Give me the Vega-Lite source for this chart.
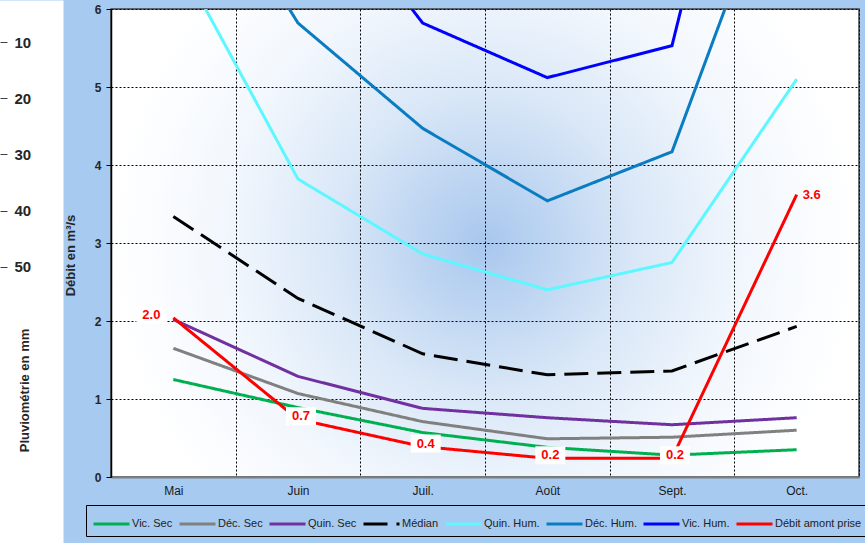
{
  "$schema": "https://vega.github.io/schema/vega-lite/v6.json",
  "autosize": "none",
  "width": 748,
  "height": 468,
  "padding": {"left": 111, "top": 9, "right": 6, "bottom": 66},
  "background": "#a6caf0",
  "config": {
    "font": "Liberation Sans",
    "view": {
      "stroke": "#404040",
      "strokeWidth": 1.5,
      "fill": {
        "gradient": "radial",
        "x1": 0.5, "y1": 0.5, "r1": 0,
        "x2": 0.5, "y2": 0.5, "r2": 0.5,
        "stops": [
          {"offset": 0, "color": "#a8c7ee"},
          {"offset": 0.15, "color": "#bad3f1"},
          {"offset": 0.4, "color": "#d9e7f7"},
          {"offset": 0.7, "color": "#f2f7fd"},
          {"offset": 1, "color": "#ffffff"}
        ]
      }
    },
    "legend": {
      "orient": "none",
      "legendX": -25,
      "legendY": 496,
      "direction": "horizontal",
      "symbolType": "M-1,0H2.13",
      "symbolSize": 529,
      "symbolStrokeWidth": 3,
      "labelFontSize": 11,
      "labelFont": "Liberation Sans",
      "labelColor": "#222222",
      "labelOffset": 14,
      "columnPadding": 0,
      "strokeColor": "#000000",
      "padding": 6
    }
  },
  "data": {
    "values": [
      {"serie": "Vic. Sec", "mois": "Mai", "debit": 1.25},
      {"serie": "Vic. Sec", "mois": "Juin", "debit": 0.89},
      {"serie": "Vic. Sec", "mois": "Juil.", "debit": 0.57},
      {"serie": "Vic. Sec", "mois": "Août", "debit": 0.38},
      {"serie": "Vic. Sec", "mois": "Sept.", "debit": 0.28},
      {"serie": "Vic. Sec", "mois": "Oct.", "debit": 0.35},
      {"serie": "Déc. Sec", "mois": "Mai", "debit": 1.65},
      {"serie": "Déc. Sec", "mois": "Juin", "debit": 1.07},
      {"serie": "Déc. Sec", "mois": "Juil.", "debit": 0.71},
      {"serie": "Déc. Sec", "mois": "Août", "debit": 0.49},
      {"serie": "Déc. Sec", "mois": "Sept.", "debit": 0.51},
      {"serie": "Déc. Sec", "mois": "Oct.", "debit": 0.6},
      {"serie": "Quin. Sec", "mois": "Mai", "debit": 2.02},
      {"serie": "Quin. Sec", "mois": "Juin", "debit": 1.29},
      {"serie": "Quin. Sec", "mois": "Juil.", "debit": 0.88},
      {"serie": "Quin. Sec", "mois": "Août", "debit": 0.76},
      {"serie": "Quin. Sec", "mois": "Sept.", "debit": 0.67},
      {"serie": "Quin. Sec", "mois": "Oct.", "debit": 0.76},
      {"serie": "Médian", "mois": "Mai", "debit": 3.34},
      {"serie": "Médian", "mois": "Juin", "debit": 2.29},
      {"serie": "Médian", "mois": "Juil.", "debit": 1.58},
      {"serie": "Médian", "mois": "Août", "debit": 1.31},
      {"serie": "Médian", "mois": "Sept.", "debit": 1.36},
      {"serie": "Médian", "mois": "Oct.", "debit": 1.93},
      {"serie": "Quin. Hum.", "mois": "Mai", "debit": 6.76},
      {"serie": "Quin. Hum.", "mois": "Juin", "debit": 3.82},
      {"serie": "Quin. Hum.", "mois": "Juil.", "debit": 2.86},
      {"serie": "Quin. Hum.", "mois": "Août", "debit": 2.4},
      {"serie": "Quin. Hum.", "mois": "Sept.", "debit": 2.75},
      {"serie": "Quin. Hum.", "mois": "Oct.", "debit": 5.1},
      {"serie": "Déc. Hum.", "mois": "Mai", "debit": 8.4},
      {"serie": "Déc. Hum.", "mois": "Juin", "debit": 5.82},
      {"serie": "Déc. Hum.", "mois": "Juil.", "debit": 4.47},
      {"serie": "Déc. Hum.", "mois": "Août", "debit": 3.54},
      {"serie": "Déc. Hum.", "mois": "Sept.", "debit": 4.17},
      {"serie": "Déc. Hum.", "mois": "Oct.", "debit": 8.48},
      {"serie": "Vic. Hum.", "mois": "Juin", "debit": 7.9},
      {"serie": "Vic. Hum.", "mois": "Juil.", "debit": 5.82},
      {"serie": "Vic. Hum.", "mois": "Août", "debit": 5.12},
      {"serie": "Vic. Hum.", "mois": "Sept.", "debit": 5.53},
      {"serie": "Vic. Hum.", "mois": "Oct.", "debit": 12.0},
      {"serie": "Débit amont prise", "mois": "Mai", "debit": 2.04},
      {"serie": "Débit amont prise", "mois": "Juin", "debit": 0.74},
      {"serie": "Débit amont prise", "mois": "Juil.", "debit": 0.39},
      {"serie": "Débit amont prise", "mois": "Août", "debit": 0.24},
      {"serie": "Débit amont prise", "mois": "Sept.", "debit": 0.24},
      {"serie": "Débit amont prise", "mois": "Oct.", "debit": 3.62}
    ]
  },
  "layer": [
    {
      "encoding": {
        "x": {
          "field": "mois",
          "type": "ordinal",
          "sort": ["Mai", "Juin", "Juil.", "Août", "Sept.", "Oct."],
          "scale": {"type": "band", "paddingInner": 0, "paddingOuter": 0},
          "axis": {
            "title": null,
            "labelAngle": 0,
            "tickBand": "extent",
            "ticks": false,
            "labelPadding": 8,
            "labelFontSize": 12,
            "labelColor": "#1a1a1a",
            "grid": true,
            "gridColor": "#000000",
            "gridDash": [2, 2],
            "gridWidth": 1,
            "domainColor": "#7f7f7f",
            "domainWidth": 2
          }
        },
        "y": {
          "field": "debit",
          "type": "quantitative",
          "scale": {"domain": [0, 6], "nice": false},
          "axis": {
            "values": [0, 1, 2, 3, 4, 5, 6],
            "title": "Débit en m³/s",
            "titleFontSize": 13,
            "titleFontWeight": "bold",
            "titleColor": "#262626",
            "titleAngle": -90,
            "titleX": -37,
            "titleY": 246,
            "titleAlign": "center",
            "titleBaseline": "alphabetic",
            "labelFontSize": 12,
            "labelFontWeight": "bold",
            "labelColor": "#262626",
            "labelPadding": 5,
            "tickSize": 5,
            "tickColor": "#000000",
            "domainColor": "#000000",
            "domainWidth": 1.5,
            "grid": true,
            "gridColor": "#000000",
            "gridDash": [2, 2],
            "gridWidth": 1
          }
        }
      },
      "layer": [
        {
          "mark": {"type": "line", "strokeWidth": 3, "clip": true},
          "encoding": {
            "color": {
              "field": "serie",
              "type": "nominal",
              "scale": {
                "domain": ["Vic. Sec", "Déc. Sec", "Quin. Sec", "Médian", "Quin. Hum.", "Déc. Hum.", "Vic. Hum.", "Débit amont prise"],
                "range": ["#00b050", "#808080", "#7030a0", "#000000", "#5cf7ff", "#0a7cc1", "#0000ff", "#ff0000"]
              },
              "legend": {"title": null}
            },
            "strokeDash": {
              "field": "serie",
              "type": "nominal",
              "scale": {
                "domain": ["Vic. Sec", "Déc. Sec", "Quin. Sec", "Médian", "Quin. Hum.", "Déc. Hum.", "Vic. Hum.", "Débit amont prise"],
                "range": [[1, 0], [1, 0], [1, 0], [24, 9], [1, 0], [1, 0], [1, 0], [1, 0]]
              },
              "legend": {"title": null}
            },
            "order": {"field": "serie"}
          }
        },
        {
          "transform": [{"filter": "datum.serie == 'Débit amont prise' && datum.mois != 'Mai' && datum.mois != 'Oct.'"}],
          "layer": [
            {
              "mark": {"type": "point", "shape": "M-1.5,-0.9H1.5V0.9H-1.5Z", "size": 400, "filled": true, "fill": "#ffffff", "stroke": null, "opacity": 1, "xOffset": 3, "yOffset": -3}
            },
            {
              "mark": {"type": "text", "color": "#ff0000", "fontSize": 13, "fontWeight": "bold", "align": "center", "baseline": "middle", "xOffset": 3, "yOffset": -3},
              "encoding": {"text": {"field": "debit", "type": "quantitative", "format": ".1f"}}
            }
          ]
        },
        {
          "transform": [{"filter": "datum.serie == 'Débit amont prise' && datum.mois == 'Mai'"}],
          "layer": [
            {
              "mark": {"type": "point", "shape": "M-1.5,-0.9H1.5V0.9H-1.5Z", "size": 400, "filled": true, "fill": "#ffffff", "stroke": null, "opacity": 1, "xOffset": -22, "yOffset": -3}
            },
            {
              "mark": {"type": "text", "color": "#ff0000", "fontSize": 13, "fontWeight": "bold", "align": "center", "baseline": "middle", "xOffset": -22, "yOffset": -3},
              "encoding": {"text": {"field": "debit", "type": "quantitative", "format": ".1f"}}
            }
          ]
        },
        {
          "transform": [{"filter": "datum.serie == 'Débit amont prise' && datum.mois == 'Oct.'"}],
          "layer": [
            {
              "mark": {"type": "text", "color": "#ff0000", "fontSize": 13, "fontWeight": "bold", "align": "center", "baseline": "middle", "xOffset": 15, "yOffset": 0},
              "encoding": {"text": {"field": "debit", "type": "quantitative", "format": ".1f"}}
            }
          ]
        }
      ]
    },
    {
      "mark": {"type": "point", "opacity": 0},
      "encoding": {
        "y": {
          "field": "bande",
          "type": "quantitative",
          "scale": {"domain": [0, 1], "range": [-9, 534], "zero": false, "nice": false},
          "axis": {
            "orient": "right",
            "offset": -859,
            "domainColor": "#ffffff",
            "domainWidth": 126,
            "domainCap": "butt",
            "ticks": false,
            "labels": false,
            "grid": false,
            "title": null
          }
        }
      }
    },
    {
      "mark": {"type": "point", "opacity": 0},
      "encoding": {
        "y": {
          "field": "pluie",
          "type": "quantitative",
          "scale": {"domain": [2.533, 99.07], "range": [-9, 534], "zero": false, "nice": false},
          "axis": {
            "orient": "right",
            "offset": -859,
            "values": [10, 20, 30, 40, 50],
            "domain": false,
            "tickSize": 7,
            "tickColor": "#404040",
            "tickWidth": 1,
            "labelPadding": 7,
            "labelFontSize": 15,
            "labelFontWeight": "bold",
            "labelColor": "#262626",
            "grid": false,
            "title": "Pluviométrie en mm",
            "titleAngle": -90,
            "titleX": 28,
            "titleY": 381,
            "titleFontSize": 13,
            "titleFontWeight": "bold",
            "titleColor": "#262626",
            "titleAlign": "center",
            "titleBaseline": "alphabetic"
          }
        }
      }
    }
  ],
  "resolve": {"scale": {"y": "independent"}, "axis": {"y": "independent"}}
}
